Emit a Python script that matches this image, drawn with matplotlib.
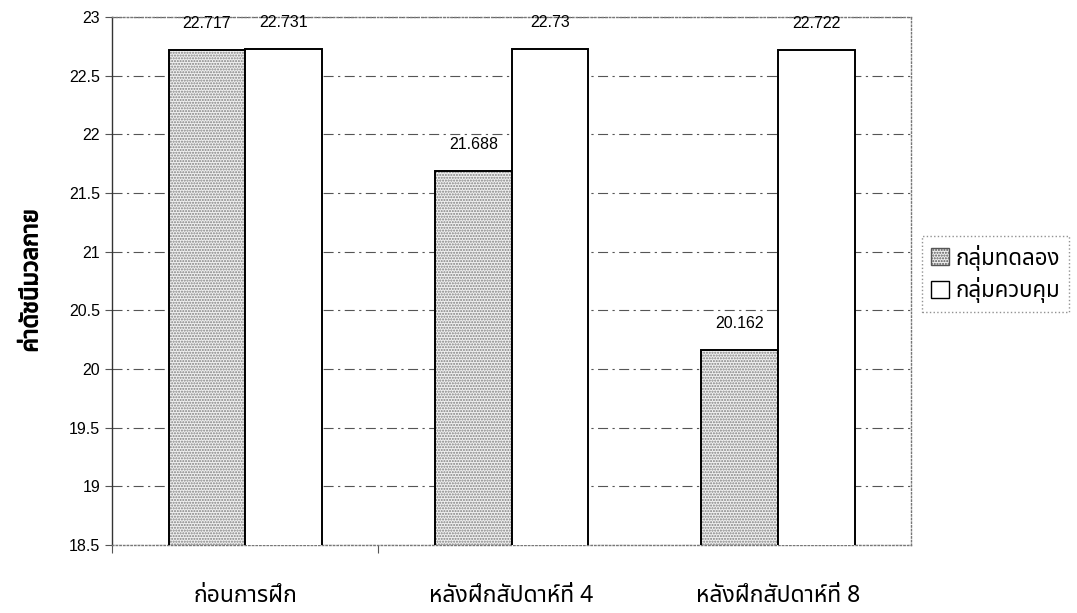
import numpy as np
import matplotlib
matplotlib.use("Agg")
import matplotlib.pyplot as plt
import matplotlib.patheffects as pe
from matplotlib import font_manager
from matplotlib.ft2font import FT2Font
from matplotlib.patches import Patch

# data
categories = ["ก่อนการฝึก", "หลังฝึกสัปดาห์ที่ 4", "หลังฝึกสัปดาห์ที่ 8"]
series_names = ["กลุ่มทดลอง", "กลุ่มควบคุม"]
experimental = [22.717, 21.688, 20.162]
control = [22.731, 22.73, 22.722]
experimental_labels = ["22.717", "21.688", "20.162"]
control_labels = ["22.731", "22.73", "22.722"]
y_ticks = [18.5, 19, 19.5, 20, 20.5, 21, 21.5, 22, 22.5, 23]
y_label = "ค่าดัชนีมวลกาย"


def find_thai_font():
    """ Look for an installed family that has Thai glyphs """
    preferred = ["Noto Sans Thai", "Noto Sans Thai UI", "Loma", "Garuda",
                 "Tlwg Typo", "Kinnari", "Norasi", "Sawasdee"]
    found = {}
    for f in font_manager.fontManager.ttflist:
        try:
            cmap = FT2Font(f.fname).get_charmap()
        except Exception:
            continue
        if 0x0E01 in cmap and 0x0E48 in cmap:
            found.setdefault(f.name, f.fname)
    for name in preferred:
        if name in found:
            return name
    if found:
        return sorted(found)[0]
    return None


thai = find_thai_font()
families = ["Liberation Sans", "DejaVu Sans"]
if thai:
    families = ["Liberation Sans", thai, "DejaVu Sans"]
plt.rcParams["font.family"] = families
thai_families = [thai, "Liberation Sans", "DejaVu Sans"] if thai else families

fig = plt.figure(figsize=(10.77, 6.13), dpi=100)
ax = fig.add_axes([0.104, 0.111, 0.742, 0.861])

x = np.arange(len(categories))
w = 0.2875

# experimental bars: grey stipple, then black outline
ax.bar(x - w / 2, experimental, w, color="#f0f0f0",
       hatch="......", edgecolor="#808080", linewidth=0, zorder=2)
ax.bar(x - w / 2, experimental, w, fill=False, edgecolor="black",
       linewidth=1.4, zorder=3)
# control bars: white
ax.bar(x + w / 2, control, w, color="white", edgecolor="black",
       linewidth=1.4, zorder=3)

ax.set_ylim(18.5, 23)
ax.set_xlim(-0.5, 2.5)
ax.set_yticks(y_ticks)
ax.set_yticklabels([f"{t:g}" for t in y_ticks], fontsize=11.5)

ax.yaxis.grid(True, color="#555555", linestyle=(0, (9, 4, 2, 4)),
              linewidth=0.8, zorder=0)
ax.set_axisbelow(True)

# value labels
for xi, v, s in zip(x, experimental, experimental_labels):
    ax.annotate(s, (xi - w / 2, v), xytext=(0, 19), textcoords="offset points",
                ha="center", va="center", fontsize=11.5)
for xi, v, s in zip(x, control, control_labels):
    ax.annotate(s, (xi + w / 2, v), xytext=(0, 19), textcoords="offset points",
                ha="center", va="center", fontsize=11.5, annotation_clip=False)

# category labels and separator ticks
ax.set_xticks([-0.5, 0.5])
ax.set_xticklabels([])
ax.tick_params(axis="x", length=6, width=0.8, direction="out", color="#555555")
ax.tick_params(axis="y", length=5, width=0.8, color="#555555")
for xi, c in zip(x, categories):
    ax.annotate(c, (xi, 0), xycoords=("data", "axes fraction"),
                xytext=(0, -37), textcoords="offset points",
                ha="center", va="center", fontsize=16.5, family=thai_families)

ylab = ax.set_ylabel(y_label, fontsize=17, fontweight="bold",
                     family=thai_families)
ylab.set_path_effects([pe.withStroke(linewidth=0.9, foreground="black")])
ax.yaxis.set_label_coords(-0.086, 0.5)

for side in ["top", "right", "bottom"]:
    ax.spines[side].set_linestyle(":")
    ax.spines[side].set_color("#777777")
    ax.spines[side].set_linewidth(1.0)
ax.spines["left"].set_color("#333333")
ax.spines["left"].set_linewidth(1.0)

handles = [Patch(facecolor="#f0f0f0", edgecolor="#555555", hatch="......"),
           Patch(facecolor="white", edgecolor="black")]
leg = fig.legend(handles, series_names, loc="center left",
                 bbox_to_anchor=(0.856, 0.553), frameon=True, fancybox=False,
                 prop={"family": thai_families, "size": 16},
                 handlelength=0.8, handleheight=0.8, handletextpad=0.3,
                 borderpad=0.4, labelspacing=0.3, borderaxespad=0)
leg.get_frame().set_edgecolor("#777777")
leg.get_frame().set_linestyle(":")
leg.get_frame().set_linewidth(1.0)

fig.savefig("out.png", dpi=100)
